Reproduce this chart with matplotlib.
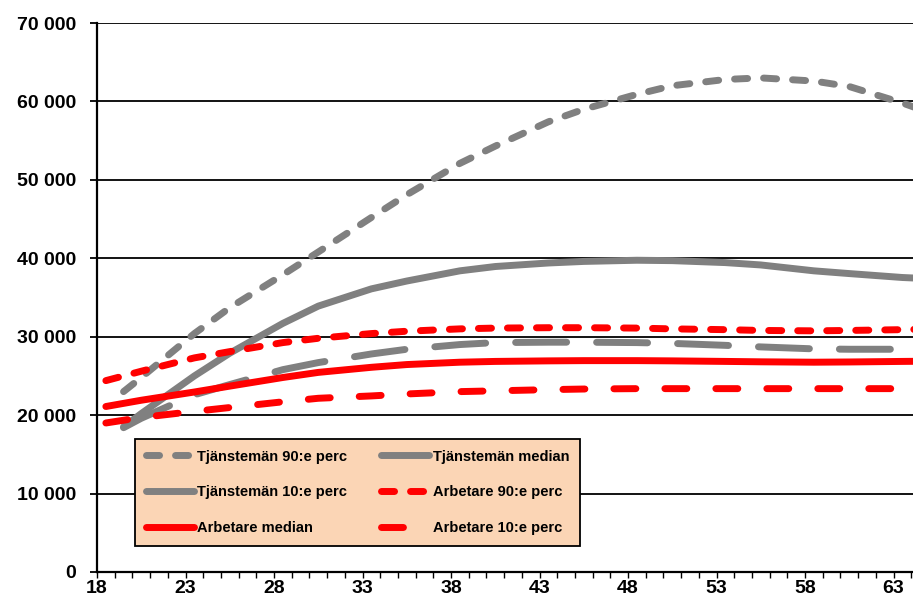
import matplotlib
matplotlib.use("Agg")
import matplotlib.pyplot as plt
from matplotlib.ticker import FuncFormatter, MultipleLocator

plt.rcParams['font.family'] = ['Liberation Sans', 'DejaVu Sans']
plt.rcParams['font.weight'] = 'bold'
plt.rcParams['lines.scale_dashes'] = False

# ages (Arbetare start at 18, Tjänstemän at 19)
ages_arb = [18, 20, 23, 25, 28, 30, 33, 35, 38, 40, 43, 45, 48, 50, 53, 55, 58, 60, 63, 64]
ages_tj = [19, 20, 23, 25, 28, 30, 33, 35, 38, 40, 43, 45, 48, 50, 53, 55, 58, 60, 63, 64]

tj_p90 = [23000, 24800, 30400, 33700, 37900, 40800, 45200, 48100, 52100, 54300,
          57400, 59000, 60900, 62000, 62800, 63000, 62600, 61900, 59800, 59000]
tj_median = [18500, 20200, 25000, 27900, 31700, 33900, 36100, 37100, 38400, 38950,
             39400, 39600, 39750, 39700, 39450, 39150, 38400, 38050, 37550, 37450]
tj_p10 = [18400, 19600, 22600, 23900, 25800, 26700, 27800, 28400, 29000, 29250,
          29300, 29300, 29250, 29150, 28900, 28700, 28450, 28400, 28400, 28400]
arb_p90 = [24400, 25600, 27300, 28100, 29250, 29800, 30400, 30700, 31000, 31100,
           31150, 31150, 31100, 31000, 30900, 30800, 30750, 30800, 30900, 30950]
arb_median = [21100, 21900, 22950, 23700, 24800, 25450, 26100, 26450, 26750, 26850,
              26920, 26950, 26950, 26920, 26850, 26800, 26750, 26780, 26850, 26870]
arb_p10 = [19000, 19700, 20480, 20970, 21700, 22150, 22450, 22700, 23000, 23100,
           23250, 23330, 23380, 23380, 23380, 23380, 23380, 23380, 23380, 23380]

labels = ['Tjänstemän 90:e perc', 'Tjänstemän median', 'Tjänstemän 10:e perc',
          'Arbetare 90:e perc', 'Arbetare median', 'Arbetare 10:e perc']

GREY = '#808080'
RED = '#FF0000'
LW = 5.0

fig = plt.figure(figsize=(9.13, 6.06), dpi=100)
ax = fig.add_axes([97 / 913, 34 / 606, 816 / 913, 549 / 606])

# data sits in the middle of each age category
xa = [a + 0.5 for a in ages_arb]
xt = [a + 0.5 for a in ages_tj]

kw = dict(lw=LW, dash_capstyle='round', solid_capstyle='round', zorder=3)
h1, = ax.plot(xt, tj_p90, color=GREY, dashes=(9.4, 11.5), label=labels[0], **kw)
h2, = ax.plot(xt, tj_median, color=GREY, label=labels[1], **kw)
h3, = ax.plot(xt, tj_p10, color=GREY, dashes=(36.7, 21.6), label=labels[2], **kw)
h4, = ax.plot(xa, arb_p90, color=RED, dashes=(9.4, 11.5), label=labels[3], **kw)
h5, = ax.plot(xa, arb_median, color=RED, label=labels[4], **kw)
h6, = ax.plot(xa, arb_p10, color=RED, dashes=(15.8, 20.9), label=labels[5], **kw)

ax.set_xlim(18, 64.1)
ax.set_ylim(0, 70000)

ax.yaxis.set_major_locator(MultipleLocator(10000))
ax.yaxis.set_major_formatter(FuncFormatter(lambda v, p: f"{int(v):,}".replace(',', ' ')))
ax.set_xticks(range(18, 64, 5))
ax.xaxis.set_minor_locator(MultipleLocator(1))

ax.yaxis.grid(True, color='black', lw=1.3, zorder=1)
ax.set_axisbelow(True)

for s in ['top', 'right']:
    ax.spines[s].set_visible(False)
for s in ['left', 'bottom']:
    ax.spines[s].set_linewidth(1.6)
    ax.spines[s].set_color('black')

ax.tick_params(axis='y', direction='out', length=5, width=1.3, pad=10, labelsize=14)
ax.tick_params(axis='x', which='both', direction='out', length=4.5, width=1.0, pad=1.5, labelsize=14)
for t in ax.get_xticklabels() + ax.get_yticklabels():
    t.set_fontweight('bold')

leg = ax.legend([h1, h3, h5, h2, h4, h6],
                [labels[0], labels[2], labels[4], labels[1], labels[3], labels[5]],
                ncol=2, loc='upper left', bbox_to_anchor=(135 / 913, 1 - 439 / 606),
                bbox_transform=fig.transFigure, borderaxespad=0,
                fontsize=10.5, handlelength=3.3, handletextpad=0.25,
                columnspacing=2.3, labelspacing=1.5, borderpad=0.72,
                frameon=True, fancybox=False, shadow=False)
leg.get_frame().set_facecolor('#FBD5B5')
leg.get_frame().set_edgecolor('black')
leg.get_frame().set_linewidth(1.3)
leg.get_frame().set_alpha(1)
leg.set_zorder(5)
for t in leg.get_texts():
    t.set_fontweight('bold')

fig.savefig('out.png', dpi=100)
